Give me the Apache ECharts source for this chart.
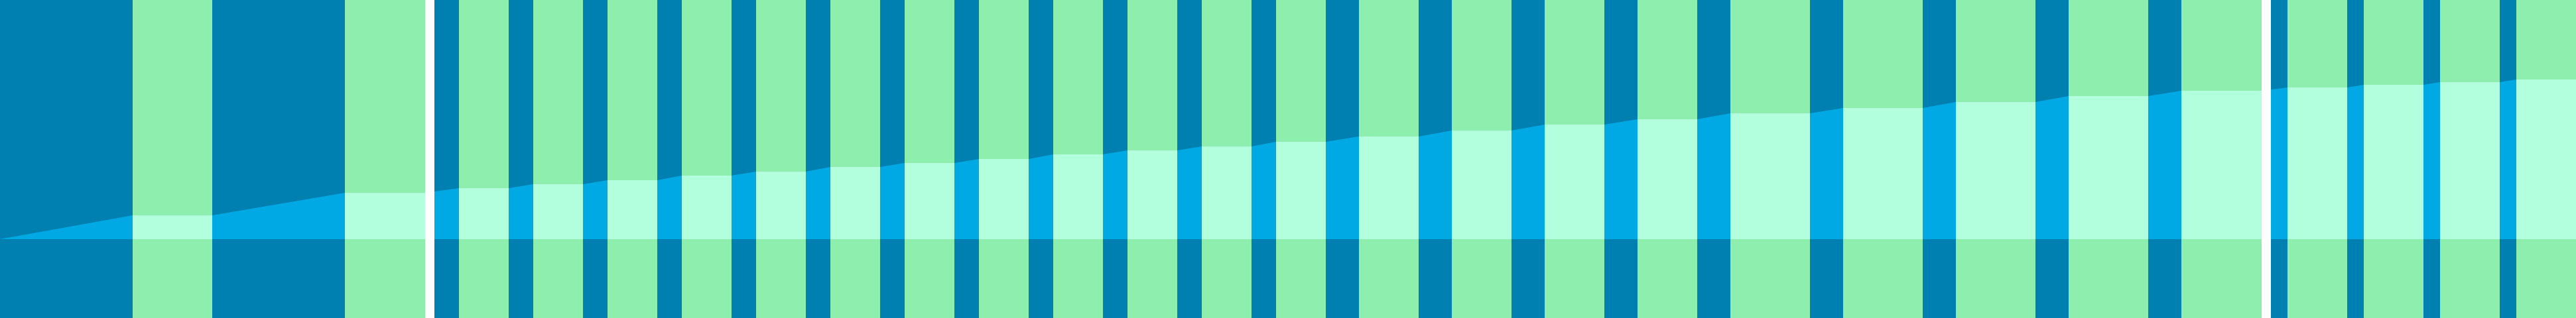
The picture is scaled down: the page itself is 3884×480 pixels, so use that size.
<!DOCTYPE html>
<html>
<head>
<meta charset="utf-8">
<title>Stepped levels</title>
<script src="https://cdn.jsdelivr.net/npm/echarts@6.0.0/dist/echarts.min.js"></script>
<style>
  html, body { margin: 0; padding: 0; background: #0080b0; }
  #chart { width: 3884px; height: 480px; }
</style>
</head>
<body>
<div id="chart"></div>
<script>
// start / end of each interval on the x axis, and the level reached in it
var intervalStart = [200, 520, 692, 804, 916, 1028, 1140, 1252, 1364, 1476, 1588, 1700, 1812, 1924,
    2049, 2189, 2329, 2469, 2609, 2779, 2949, 3119, 3289, 3449, 3564, 3679, 3794];
var intervalEnd = [320, 641, 767, 879, 991, 1103, 1215, 1327, 1439, 1551, 1663, 1775, 1887, 1999,
    2139, 2279, 2419, 2559, 2729, 2899, 3069, 3239, 3410, 3539, 3654, 3769, 3884];
var levels = [36, 70, 77, 83, 89, 96, 102, 109, 115, 121, 128, 134, 140, 147,
    155, 164, 173, 181, 190, 198, 207, 216, 224, 229, 233, 237, 241];

// axis breaks (drawn as white gaps)
var breakStart = [641, 3410];
var breakEnd = [655, 3424];

var X_MAX = 3884;
var Y_MIN = -119;
var Y_MAX = 361;

var chartDom = document.getElementById('chart');
var myChart = echarts.init(chartDom);

// the area line goes through both corners of every interval
var lineData = [[0, 0]];
for (let i = 0; i < levels.length; i++) {
    lineData.push([intervalStart[i], levels[i]]);
    lineData.push([intervalEnd[i], levels[i]]);
}

var bandData = [];
for (let i = 0; i < levels.length; i++) {
    bandData.push([intervalStart[i], intervalEnd[i], levels[i]]);
}

var breakData = [];
for (let i = 0; i < breakStart.length; i++) {
    breakData.push([breakStart[i], breakEnd[i]]);
}

var option = {
    backgroundColor: '#0080b0',
    animation: false,
    grid: { left: 0, right: 0, top: 0, bottom: 0 },
    xAxis: { type: 'value', min: 0, max: X_MAX, show: false },
    yAxis: { type: 'value', min: Y_MIN, max: Y_MAX, show: false },
    series: [
        {
            name: 'level',
            type: 'line',
            data: lineData,
            showSymbol: false,
            lineStyle: { width: 0 },
            areaStyle: { color: '#00a8e4', opacity: 1 },
            z: 1
        },
        {
            name: 'intervals',
            type: 'custom',
            data: bandData,
            z: 2,
            renderItem: function (params, api) {
                var topLeft = api.coord([api.value(0), Y_MAX]);
                var bottomRight = api.coord([api.value(1), Y_MIN]);
                var levelLeft = api.coord([api.value(0), api.value(2)]);
                var zeroRight = api.coord([api.value(1), 0]);
                return {
                    type: 'group',
                    children: [
                        {
                            type: 'rect',
                            shape: {
                                x: topLeft[0], y: topLeft[1],
                                width: bottomRight[0] - topLeft[0],
                                height: bottomRight[1] - topLeft[1]
                            },
                            style: { fill: '#8eeead' }
                        },
                        {
                            type: 'rect',
                            shape: {
                                x: levelLeft[0], y: levelLeft[1],
                                width: zeroRight[0] - levelLeft[0],
                                height: zeroRight[1] - levelLeft[1]
                            },
                            style: { fill: '#b1ffdd' }
                        }
                    ]
                };
            }
        },
        {
            name: 'breaks',
            type: 'custom',
            data: breakData,
            z: 3,
            renderItem: function (params, api) {
                var a = api.coord([api.value(0), Y_MAX]);
                var b = api.coord([api.value(1), Y_MIN]);
                return {
                    type: 'rect',
                    shape: { x: a[0], y: a[1], width: b[0] - a[0], height: b[1] - a[1] },
                    style: { fill: '#ffffff' }
                };
            }
        }
    ]
};

option && myChart.setOption(option);
window.addEventListener('resize', myChart.resize);
</script>
</body>
</html>
